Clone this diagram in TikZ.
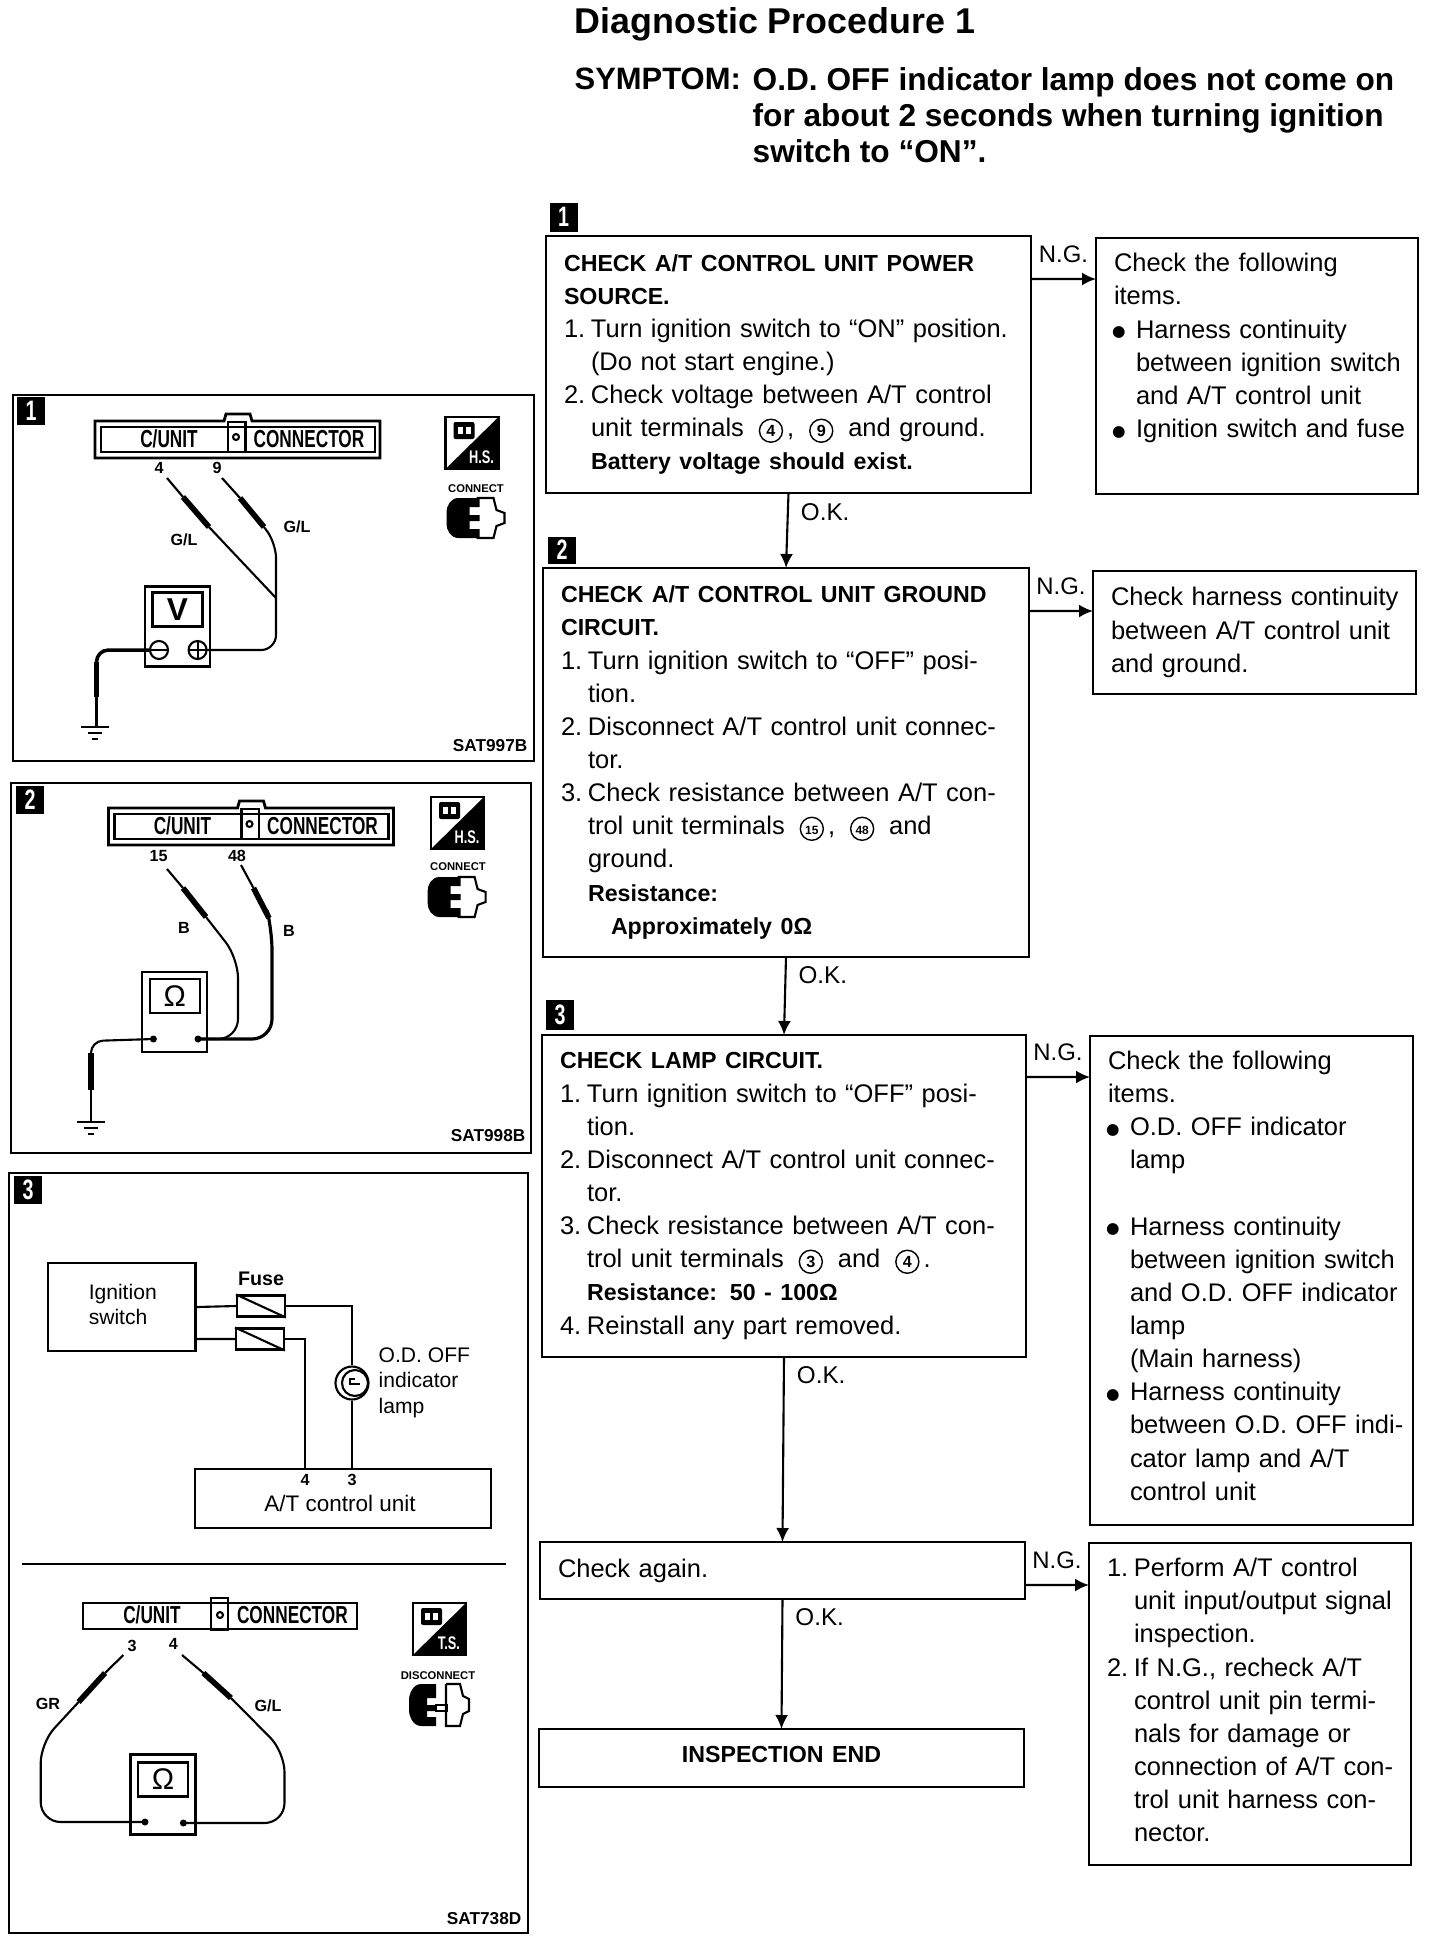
\documentclass[tikz,border=0pt]{standalone}
\usepackage{fontspec}
\usepackage{tikz}
\usetikzlibrary{arrows.meta, positioning}
\setmainfont{Liberation Sans}
\newfontfamily\symfont{DejaVu Sans}
\newfontfamily\narrowfont[FakeStretch=0.7]{Liberation Sans}

% Text helpers for the procedure boxes
\newcommand{\headtext}[1]{{\fontsize{6.6}{9.43}\selectfont\bfseries #1}}
\newcommand{\numitem}[1]{\makebox[0.27cm][l]{#1}}
\newcommand{\hangnum}{\hspace*{0.27cm}}
\newcommand{\hangdot}{\hspace*{0.22cm}}
\newcommand{\dotmark}{\hspace*{-0.02cm}\makebox[0.24cm][l]{\raisebox{0.4pt}{\symfont\fontsize{4.4}{4.4}\selectfont ●}}}
\newcommand{\liftby}[1]{\rule[-#1]{0pt}{0pt}}
\newcommand{\cgap}{\hspace{0.15cm}}
\newcommand{\cnum}[2][4.6]{\makebox[0.24cm][c]{\fontsize{#1}{#1}\selectfont\bfseries #2}\llap{\smash{\tikz[baseline=0pt]{\useasboundingbox (0,0) rectangle (0.24,0.1); \draw[line width=0.4pt] (0.12,0.06) circle[x radius=0.115, y radius=0.115];}}}}

\tikzset{
    procbox/.style 2 args={draw, line width=0.8pt, anchor=north west, inner sep=0pt, outer sep=0pt,
        text width=#1cm, minimum height=#2cm, font=\fontsize{7.25}{9.43}\selectfont,
        execute at begin node={\raggedright\leftskip=0.18cm\relax}},
    flowarrow/.style={-{Latex[length=0.14cm,width=0.13cm]}, line width=0.6pt},
    nglabel/.style={above=0.15cm, inner sep=0pt, font=\fontsize{6.8}{9}\selectfont},
    oklabel/.style={right=0.12cm, inner sep=0pt, font=\fontsize{6.9}{9}\selectfont},
    badge/.style={fill=black, text=white, inner sep=0pt, minimum width=0.28cm, minimum height=0.28cm,
        font=\fontsize{8}{8}\selectfont\narrowfont\bfseries},
    panelframe/.style={line width=0.8pt},
    wire/.style={line width=0.6pt},
    testlead/.style={line width=0.6pt},
    probegrip/.style={line width=1.6pt},
    barlabel/.style={inner sep=0pt, font=\fontsize{7}{7}\selectfont\narrowfont\bfseries},
    wirenum/.style={inner sep=0pt, font=\fontsize{4.6}{5}\selectfont\bfseries},
    codelabel/.style={inner sep=0pt, anchor=east, font=\fontsize{4.9}{5}\selectfont\bfseries},
    actlabel/.style={inner sep=0pt, font=\fontsize{3.2}{4}\selectfont\bfseries},
    meterbody/.style={draw, line width=0.6pt, inner sep=0pt, minimum width=0.65cm, minimum height=0.80cm},
    meterface/.style={draw, line width=0.6pt, inner sep=0pt, minimum width=0.50cm, minimum height=0.34cm},
    termdot/.style={circle, fill=black, inner sep=0pt, minimum size=0.07cm},
    termring/.style={circle, draw, line width=0.6pt, inner sep=0pt, minimum size=0.18cm},
    schembox/.style={draw, line width=0.8pt, inner sep=0pt, align=left, font=\fontsize{6}{7.1}\selectfont},
    fusebox/.style={draw, line width=0.6pt, inner sep=0pt, minimum width=0.48cm, minimum height=0.21cm},
}

% Connector strip with lug, as in panels 1 and 2
\newcommand{\connbar}[3]{
    \begin{scope}[shift={(#1,#2)}]
        \draw[panelframe] (0,0) -- (1.29,0) -- (1.31,0.07) -- (1.55,0.07) -- (1.57,0) -- (2.85,0) -- (2.85,-0.37) -- (0,-0.37) -- cycle;
        \draw[panelframe] (0.06,-0.06) rectangle (2.80,-0.31);
        \draw[panelframe] (1.33,-0.01) rectangle (1.505,-0.31);
        \draw[wire] (1.41,-0.16) circle (0.03);
        \node[barlabel] (#3unit) at (0.74,-0.18) {C/UNIT};
        \node[barlabel] (#3conn) at (2.14,-0.18) {CONNECTOR};
    \end{scope}
}
% Square mode tag, half black
\newcommand{\serviceicon}[4]{
    \begin{scope}[shift={(#1,#2)}]
        \draw[panelframe] (0,0) rectangle (0.53,-0.52);
        \fill (0.53,0) -- (0.53,-0.52) -- (0,-0.52) -- cycle;
        \fill[rounded corners=0.02cm] (0.08,-0.05) rectangle (0.29,-0.22);
        \fill[white] (0.12,-0.10) rectangle (0.17,-0.17);
        \fill[white] (0.20,-0.10) rectangle (0.25,-0.17);
        \node[inner sep=0pt, text=white, font=\fontsize{5.2}{5.2}\selectfont\narrowfont\bfseries] (#3) at (0.36,-0.40) {#4};
    \end{scope}
}
% Mated plug symbol
\newcommand{\plugicon}[2]{
    \begin{scope}[shift={(#1,#2)}]
        \draw[wire] (0.30,0.20) -- (0.47,0.20) -- (0.50,0.08) -- (0.58,0.05) -- (0.58,-0.05) -- (0.50,-0.08) -- (0.47,-0.20) -- (0.30,-0.20);
        \fill (0.33,0.20) -- (0.12,0.20) .. controls (0.04,0.20) and (0,0.12) .. (0,0.06) -- (0,-0.06)
            .. controls (0,-0.12) and (0.04,-0.20) .. (0.12,-0.20) -- (0.33,-0.20) -- (0.33,-0.11) -- (0.23,-0.11)
            -- (0.23,-0.03) -- (0.33,-0.03) -- (0.33,0.03) -- (0.23,0.03) -- (0.23,0.11) -- (0.33,0.11) -- cycle;
    \end{scope}
}
% Earth symbol
\newcommand{\groundsym}[2]{
    \draw[wire] (#1-0.14,#2) -- (#1+0.14,#2);
    \draw[wire] (#1-0.07,#2-0.06) -- (#1+0.07,#2-0.06);
    \draw[wire] (#1-0.03,#2-0.12) -- (#1+0.03,#2-0.12);
}

\begin{document}
\begin{tikzpicture}
    \useasboundingbox (0,0) rectangle (14.40,-19.42);

    % Heading
    \node[anchor=base west, inner sep=0pt, font=\fontsize{10.2}{12}\selectfont\bfseries] (title) at (5.74,-0.33) {Diagnostic Procedure 1};
    \node[anchor=base west, inner sep=0pt, font=\fontsize{8.8}{10.25}\selectfont\bfseries] (symptomtag) at (5.74,-0.89) {SYMPTOM:};
    \node[anchor=north west, inner sep=0pt, align=left, font=\fontsize{9}{10.25}\selectfont\bfseries] (symptom) at (7.52,-0.67) {O.D. OFF indicator lamp does not come on\\for about 2 seconds when turning ignition\\switch to “ON”.};

    % Procedure boxes, left column
    \node[procbox={4.85}{2.57}] (chkone) at (5.46,-2.36) {\headtext{CHECK A/T CONTROL UNIT POWER}\\
        \headtext{SOURCE.}\\
        \numitem{1.}Turn ignition switch to ``ON'' position.\\
        \hangnum(Do not start engine.)\\
        \numitem{2.}Check voltage between A/T control\\
        \hangnum unit terminals\cgap\cnum{4}\,,\cgap\cnum{9}\cgap and ground.\\
        \hangnum\headtext{Battery voltage should exist.}\liftby{0.03cm}};
    \node[procbox={4.86}{3.89}] (chktwo) at (5.43,-5.68) {\headtext{CHECK A/T CONTROL UNIT GROUND}\\
        \headtext{CIRCUIT.}\\
        \numitem{1.}Turn ignition switch to ``OFF'' posi-\\
        \hangnum tion.\\
        \numitem{2.}Disconnect A/T control unit connec-\\
        \hangnum tor.\\
        \numitem{3.}Check resistance between A/T con-\\
        \hangnum trol unit terminals\cgap\cnum[3.4]{15}\,,\cgap\cnum[3.4]{48}\cgap and\\
        \hangnum ground.\\
        \hangnum\headtext{Resistance:}\\
        \hspace*{0.50cm}\headtext{Approximately 0Ω}};
    \node[procbox={4.84}{3.22}] (chkthree) at (5.42,-10.35) {\headtext{CHECK LAMP CIRCUIT.}\\
        \numitem{1.}Turn ignition switch to ``OFF'' posi-\\
        \hangnum tion.\\
        \numitem{2.}Disconnect A/T control unit connec-\\
        \hangnum tor.\\
        \numitem{3.}Check resistance between A/T con-\\
        \hangnum trol unit terminals\cgap\cnum{3}\cgap and\cgap\cnum{4}\,.\\
        \hangnum\headtext{Resistance: 50 - 100Ω}\\
        \numitem{4.}Reinstall any part removed.\liftby{0.02cm}};
    \node[procbox={4.85}{0.57}] (recheck) at (5.40,-15.42) {Check again.\liftby{0.02cm}};
    \node[procbox={4.85}{0.58}, execute at begin node={\centering}] (finish) at (5.39,-17.29) {\headtext{INSPECTION END}\liftby{0.08cm}};

    % Step numbers
    \node[badge, minimum height=0.29cm] (stepone) at (5.635,-2.17) {1};
    \node[badge, minimum height=0.27cm] (steptwo) at (5.62,-5.50) {2};
    \node[badge, minimum height=0.30cm] (stepthree) at (5.60,-10.15) {3};

    % Remedy boxes, right column
    \node[procbox={3.22}{2.56}] (fixone) at (10.96,-2.38) {Check the following\\
        items.\\
        \dotmark Harness continuity\\
        \hangdot between ignition switch\\
        \hangdot and A/T control unit\\
        \dotmark Ignition switch and fuse\\
        ~\liftby{0.08cm}};
    \node[procbox={3.23}{1.23}] (fixtwo) at (10.93,-5.71) {Check harness continuity\\
        between A/T control unit\\
        and ground.\liftby{0.03cm}};
    \node[procbox={3.23}{4.89}] (fixthree) at (10.90,-10.36) {Check the following\\
        items.\\
        \dotmark O.D. OFF indicator\\
        \hangdot lamp\\
        ~\\
        \dotmark Harness continuity\\
        \hangdot between ignition switch\\
        \hangdot and O.D. OFF indicator\\
        \hangdot lamp\\
        \hangdot (Main harness)\\
        \dotmark Harness continuity\\
        \hangdot between O.D. OFF indi-\\
        \hangdot cator lamp and A/T\\
        \hangdot control unit\liftby{0.10cm}};
    \node[procbox={3.22}{3.22}] (fixfour) at (10.89,-15.43) {\numitem{1.}Perform A/T control\\
        \hangnum unit input/output signal\\
        \hangnum inspection.\\
        \numitem{2.}If N.G., recheck A/T\\
        \hangnum control unit pin termi-\\
        \hangnum nals for damage or\\
        \hangnum connection of A/T con-\\
        \hangnum trol unit harness con-\\
        \hangnum nector.\liftby{0.08cm}};

    % O.K. flow
    \draw[flowarrow] (chkone.south) -- node[oklabel, pos=0.25] (okone) {O.K.} (chktwo.north);
    \draw[flowarrow] (chktwo.south) -- node[oklabel, pos=0.23] (oktwo) {O.K.} (chkthree.north);
    \draw[flowarrow] (chkthree.south) -- node[oklabel, pos=0.10] (okthree) {O.K.} (recheck.north);
    \draw[flowarrow] (recheck.south) -- node[oklabel, pos=0.14] (okfour) {O.K.} (finish.north);

    % N.G. flow
    \draw[flowarrow] ([yshift=-0.43cm]chkone.north east) -- node[nglabel] (ngone) {N.G.} ([yshift=-0.41cm]fixone.north west);
    \draw[flowarrow] ([yshift=-0.43cm]chktwo.north east) -- node[nglabel] (ngtwo) {N.G.} ([yshift=-0.40cm]fixtwo.north west);
    \draw[flowarrow] ([yshift=-0.42cm]chkthree.north east) -- node[nglabel] (ngthree) {N.G.} ([yshift=-0.41cm]fixthree.north west);
    \draw[flowarrow] ([yshift=-0.43cm]recheck.north east) -- node[nglabel] (ngfour) {N.G.} ([yshift=-0.42cm]fixfour.north west);

    % Panel 1: voltage check
    \draw[panelframe] (0.13,-3.95) rectangle (5.34,-7.61);
    \node[badge] (panelone) at (0.31,-4.105) {1};
    \connbar{0.95}{-4.21}{pone}
    \node[wirenum] (pinfour) at (1.59,-4.68) {4};
    \node[wirenum] (pinnine) at (2.17,-4.68) {9};
    \node[meterbody] (meterone) at (1.775,-6.265) {};
    \node[meterface, below=0.06cm of meterone.north, font=\fontsize{9}{9}\selectfont\bfseries] (faceone) {V};
    \node[termring] (minusone) at (1.59,-6.50) {};
    \node[termring] (plusone) at (1.976,-6.50) {};
    \draw[wire] (minusone.west) -- (minusone.east);
    \draw[wire] (plusone.west) -- (plusone.east);
    \draw[wire] (plusone.north) -- (plusone.south);
    % Leads to the pins
    \draw[testlead] (1.67,-4.78) -- (1.83,-4.97);
    \draw[probegrip] (1.83,-4.97) -- (2.09,-5.27);
    \draw[testlead] (2.09,-5.27) -- (2.76,-5.98);
    \draw[testlead] (2.22,-4.78) -- (2.40,-4.98);
    \draw[probegrip] (2.40,-4.98) -- (2.64,-5.27);
    \draw[testlead, rounded corners=0.15cm] (2.64,-5.27) -- (2.76,-5.43) -- (2.76,-6.50) -- (plusone.east);
    % Lead to earth
    \draw[testlead, line width=1pt, rounded corners=0.12cm] (minusone.west) -- (0.965,-6.50) -- (0.965,-6.65);
    \draw[probegrip] (0.965,-6.62) -- (0.965,-6.97);
    \draw[testlead] (0.965,-6.97) -- (0.965,-7.27);
    \groundsym{0.95}{-7.27}
    \node[wirenum] (colourone) at (1.84,-5.40) {G/L};
    \node[wirenum] (colourtwo) at (2.97,-5.27) {G/L};
    \node[codelabel] (codeone) at (5.28,-7.46) {SAT997B};
    \serviceicon{4.455}{-4.17}{modeone}{H.S.}
    \node[actlabel] (actone) at (4.76,-4.89) {CONNECT};
    \plugicon{4.465}{-5.18}

    % Panel 2: earth circuit check
    \draw[panelframe] (0.11,-7.83) rectangle (5.31,-11.53);
    \node[badge] (paneltwo) at (0.30,-7.995) {2};
    \connbar{1.085}{-8.08}{ptwo}
    \node[wirenum] (pinfifteen) at (1.586,-8.56) {15};
    \node[wirenum] (pinfortyeight) at (2.37,-8.56) {48};
    \node[meterbody] (metertwo) at (1.7475,-10.12) {};
    \node[meterface, below=0.07cm of metertwo.north, font=\fontsize{8.5}{8.5}\selectfont] (facetwo) {Ω};
    \node[termdot] (termtwoa) at (1.534,-10.39) {};
    \node[termdot] (termtwob) at (1.98,-10.39) {};
    % Leads to the pins
    \draw[testlead] (1.67,-8.69) -- (1.83,-8.88);
    \draw[probegrip] (1.83,-8.88) -- (2.06,-9.17);
    \draw[testlead, rounded corners=0.2cm] (2.06,-9.17) -- (2.38,-9.58) -- (2.38,-10.39) -- (termtwob.center);
    \draw[testlead] (2.41,-8.65) -- (2.535,-8.88);
    \draw[probegrip] (2.535,-8.88) -- (2.69,-9.18);
    \draw[testlead, line width=0.9pt, rounded corners=0.2cm] (2.69,-9.18) -- (2.72,-9.30) -- (2.72,-10.39) -- (termtwob.center);
    % Lead to earth
    \draw[testlead, rounded corners=0.12cm] (termtwoa.center) -- (0.91,-10.41) -- (0.91,-10.56);
    \draw[probegrip] (0.91,-10.53) -- (0.91,-10.90);
    \draw[testlead] (0.91,-10.90) -- (0.91,-11.22);
    \groundsym{0.91}{-11.22}
    \node[wirenum] (colourthree) at (1.84,-9.28) {B};
    \node[wirenum] (colourfour) at (2.89,-9.31) {B};
    \node[codelabel] (codetwo) at (5.26,-11.36) {SAT998B};
    \serviceicon{4.31}{-7.97}{modetwo}{H.S.}
    \node[actlabel] (acttwo) at (4.58,-8.67) {CONNECT};
    \plugicon{4.276}{-8.97}

    % Panel 3: lamp circuit
    \draw[panelframe] (0.09,-11.73) rectangle (5.28,-19.33);
    \node[badge] (panelthree) at (0.28,-11.90) {3};
    \node[schembox, minimum width=1.475cm, minimum height=0.88cm] (ignbox) at (1.2175,-13.07) {\hspace*{0.02cm}Ignition\\\hspace*{0.02cm}switch\liftby{0.05cm}};
    \node[inner sep=0pt, font=\fontsize{5.6}{6}\selectfont\bfseries] (fusetag) at (2.61,-12.79) {Fuse};
    \node[fusebox] (fuseone) at (2.61,-13.06) {};
    \node[fusebox] (fusetwo) at (2.60,-13.39) {};
    \draw[wire] (fuseone.north west) -- (fuseone.south east);
    \draw[wire] (fusetwo.north west) -- (fusetwo.south east);
    \node[circle, draw, line width=0.6pt, inner sep=0pt, minimum size=0.33cm] (lamp) at (3.52,-13.83) {};
    \draw[wire] (3.55,-13.83) circle (0.13);
    \draw[wire] (3.49,-13.84) -- (3.60,-13.84);
    \draw[wire] (3.50,-13.84) -- (3.50,-13.79) -- (3.55,-13.79);
    \node[anchor=north west, inner sep=0pt, align=left, font=\fontsize{6}{7.2}\selectfont] (lamptag) at (3.78,-13.47) {O.D. OFF\\indicator\\lamp};
    \node[schembox, minimum width=2.96cm, minimum height=0.59cm] (atbox) at (3.43,-14.985) {};
    \node[inner sep=0pt, font=\fontsize{6.4}{7}\selectfont] (attag) at (3.40,-15.03) {A/T control unit};
    \node[wirenum] (atpinfour) at (3.05,-14.80) {4};
    \node[wirenum] (atpinthree) at (3.52,-14.80) {3};
    \draw[wire] (ignbox.east) -- (fuseone.west);
    \draw[wire] ([yshift=-0.32cm]ignbox.east) -- (fusetwo.west);
    \draw[wire] (fuseone.east) -| (lamp.north);
    \draw[wire] (lamp.south) -- (lamp.south |- atbox.north);
    \draw[wire] (fusetwo.east) -| (atpinfour |- atbox.north);
    \draw[panelframe] (0.22,-15.64) -- (5.06,-15.64);

    % Panel 3: resistance check
    \draw[wire] (0.834,-16.03) rectangle (3.57,-16.29);
    \draw[wire] (2.11,-15.98) rectangle (2.28,-16.30);
    \draw[wire] (2.20,-16.15) circle (0.03);
    \node[barlabel] (pthreeunit) at (1.52,-16.15) {C/UNIT};
    \node[barlabel] (pthreeconn) at (2.924,-16.15) {CONNECTOR};
    \node[wirenum] (pinthree) at (1.32,-16.46) {3};
    \node[wirenum] (pinfourb) at (1.734,-16.44) {4};
    \node[meterbody] (meterthree) at (1.63,-17.945) {};
    \node[meterface, below=0.08cm of meterthree.north, font=\fontsize{8.5}{8.5}\selectfont] (facethree) {Ω};
    \node[termdot] (termthreea) at (1.45,-18.22) {};
    \node[termdot] (termthreeb) at (1.834,-18.23) {};
    \draw[testlead] (1.234,-16.55) -- (1.05,-16.73);
    \draw[probegrip] (1.05,-16.73) -- (0.786,-17.02);
    \draw[testlead, rounded corners=0.2cm] (0.786,-17.02) -- (0.407,-17.43) -- (0.407,-18.22) -- (termthreea.center);
    \draw[testlead] (1.82,-16.55) -- (2.034,-16.73);
    \draw[probegrip] (2.034,-16.73) -- (2.31,-16.98);
    \draw[testlead, rounded corners=0.2cm] (2.31,-16.98) -- (2.845,-17.52) -- (2.845,-18.23) -- (termthreeb.center);
    \node[wirenum] (colourfive) at (0.48,-17.04) {GR};
    \node[wirenum] (coloursix) at (2.68,-17.06) {G/L};
    \node[codelabel] (codethree) at (5.22,-19.19) {SAT738D};
    \serviceicon{4.13}{-16.03}{modethree}{T.S.}
    \node[actlabel] (actthree) at (4.38,-16.76) {DISCONNECT};
    % Separated plug halves
    \draw[wire] (4.36,-17.05) rectangle (4.47,-17.11);
    \draw[wire] (4.46,-16.84) -- (4.60,-16.84) -- (4.63,-16.96) -- (4.69,-16.99) -- (4.69,-17.11) -- (4.63,-17.14) -- (4.60,-17.26) -- (4.46,-17.26) -- (4.46,-16.84);
    \fill (4.36,-16.84) -- (4.21,-16.84) .. controls (4.13,-16.84) and (4.09,-16.94) .. (4.09,-17.00) -- (4.09,-17.10)
        .. controls (4.09,-17.16) and (4.13,-17.26) .. (4.21,-17.26) -- (4.36,-17.26) -- (4.36,-17.17) -- (4.27,-17.17)
        -- (4.27,-17.11) -- (4.36,-17.11) -- (4.36,-17.05) -- (4.27,-17.05) -- (4.27,-16.98) -- (4.36,-16.98) -- cycle;
\end{tikzpicture}
\end{document}
